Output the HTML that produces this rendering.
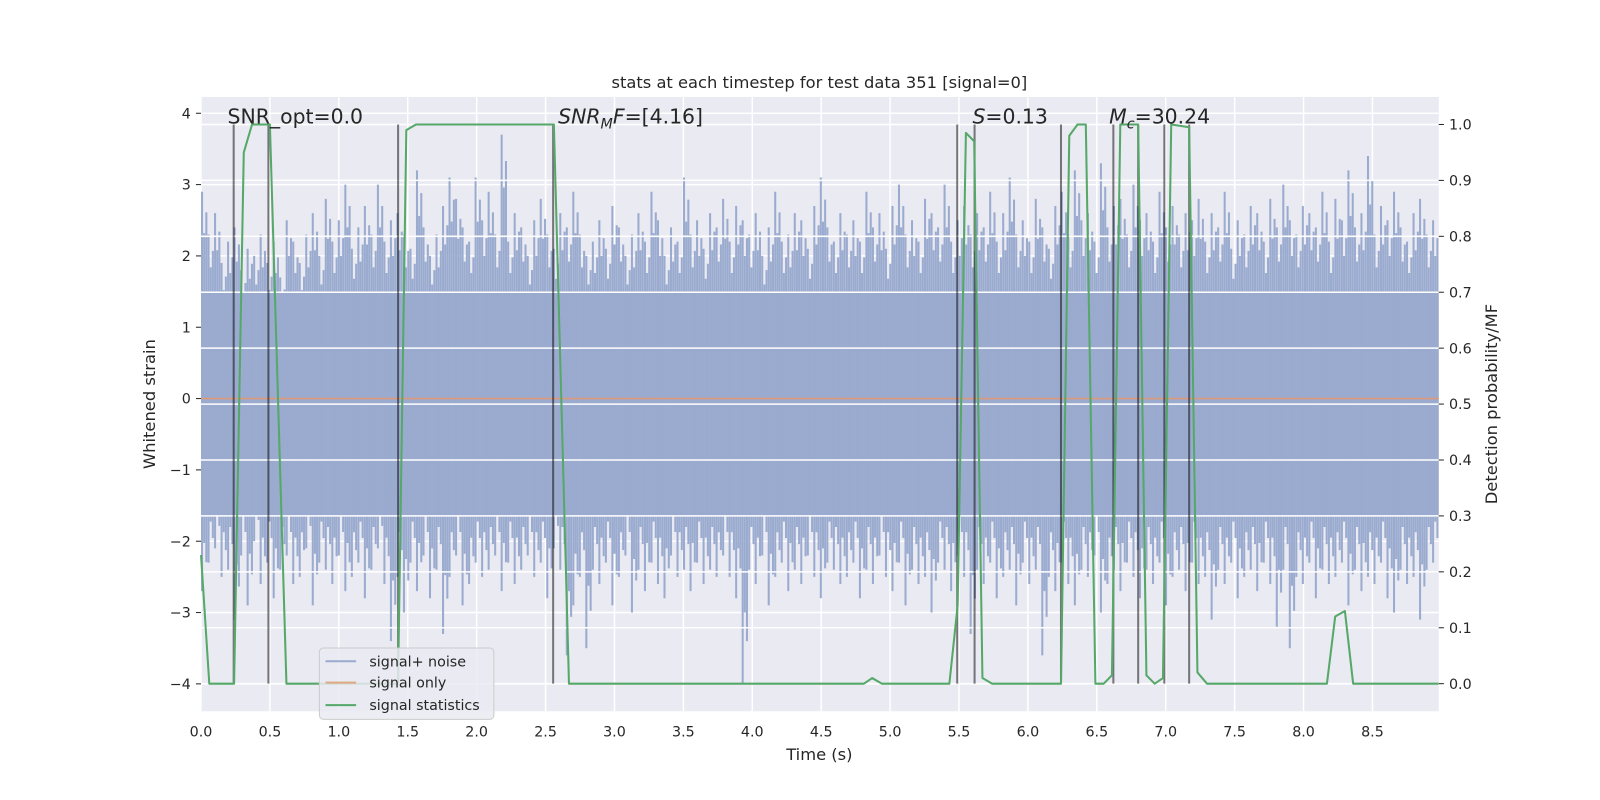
<!DOCTYPE html>
<html><head><meta charset="utf-8"><style>
body{margin:0;background:#fff;}
svg{display:block;font-family:"DejaVu Sans","Liberation Sans",sans-serif;}
</style></head><body>
<svg id="chart" width="1600" height="800" viewBox="0 0 1600 800">
<rect x="0" y="0" width="1600" height="800" fill="#fff"/>
<g transform="scale(1.0204)">
<rect x="197" y="95" width="1213" height="602" fill="#eaeaf2"/>
<g id="gridL"></g>
<g id="noise"></g>
<g id="sigonly"></g>
<g id="gridR"></g>
<g id="vlines"></g>
<g id="stats"></g>
<g id="axes"></g>
<text x="803" y="86" font-size="16" text-anchor="middle" fill="#262626">stats at each timestep for test data 351 [signal=0]</text>
<text x="223" y="121" font-size="20" fill="#262626">SNR_opt=0.0</text>
<text x="547" y="121" font-size="20" fill="#262626"><tspan font-style="italic">SNR</tspan><tspan font-style="italic" font-size="14" dy="5">M</tspan><tspan font-style="italic" dy="-5">F</tspan>=[4.16]</text>
<text x="953" y="121" font-size="20" fill="#262626"><tspan font-style="italic">S</tspan>=0.13</text>
<text x="1087" y="121" font-size="20" fill="#262626"><tspan font-style="italic">M</tspan><tspan font-style="italic" font-size="14" dy="5">c</tspan><tspan dy="-5">=30.24</tspan></text>
<text x="803" y="745" font-size="16" text-anchor="middle" fill="#262626">Time (s)</text>
<text transform="translate(152,396) rotate(-90)" font-size="16" text-anchor="middle" fill="#262626">Whitened strain</text>
<text transform="translate(1467,396) rotate(-90)" font-size="16" text-anchor="middle" fill="#262626">Detection probability/MF</text>
<g>
<rect x="313" y="635" width="171" height="70" rx="4" fill="#eaeaf2" fill-opacity="0.85" stroke="#cccccc"/>
<line x1="319" y1="648" x2="349" y2="648" stroke="#9aabcf" stroke-width="2"/>
<text x="362" y="653" font-size="14" fill="#262626">signal+ noise</text>
<line x1="319" y1="669" x2="349" y2="669" stroke="#dda87f" stroke-width="2"/>
<text x="362" y="674" font-size="14" fill="#262626">signal only</text>
<line x1="319" y1="691" x2="349" y2="691" stroke="#55a868" stroke-width="2"/>
<text x="362" y="696" font-size="14" fill="#262626">signal statistics</text>
</g>
</g>
</svg>
<script>
const xTicks=[0,0.5,1,1.5,2,2.5,3,3.5,4,4.5,5,5.5,6,6.5,7,7.5,8,8.5];
const yTicks=[-4,-3,-2,-1,0,1,2,3,4];
const rTicks=[0,0.1,0.2,0.3,0.4,0.5,0.6,0.7,0.8,0.9,1.0];
const noiseHi=[2.9,2.3,2.6,1.9,2.2,2.4,1.8,2.1,2.0,2.3,1.9,2.2,1.7,2.5,2.2,1.9,2.3,2.6,2.0,2.8,
2.2,2.5,3.0,2.1,2.4,2.7,2.3,3.0,2.2,2.5,2.6,2.3,2.1,3.2,2.4,2.0,2.3,2.7,3.1,2.8,
2.4,2.2,3.1,2.5,2.9,2.3,3.7,2.2,2.6,2.4,2.0,2.5,2.8,2.3,2.1,2.6,2.4,2.9,2.3,2.0,
2.2,2.5,2.1,2.7,2.4,2.0,2.3,2.6,2.2,2.9,2.5,2.0,2.4,2.2,3.1,2.3,2.5,2.1,2.6,2.4,
2.8,2.2,2.7,2.5,2.3,2.6,2.0,2.4,2.9,2.2,2.3,2.6,2.5,2.1,2.7,3.1,2.4,2.2,2.6,2.3,
2.5,2.2,2.9,2.4,2.6,2.1,2.7,3.0,2.3,2.5,2.2,2.8,2.6,2.4,3.0,2.2,2.5,2.7,2.3,2.6,
2.4,2.9,2.2,2.6,3.1,2.3,2.5,2.2,2.8,2.4,2.1,2.7,2.9,2.3,3.2,2.5,2.6,2.2,3.3,2.4,
2.7,2.8,2.3,3.0,2.5,2.6,2.2,2.9,2.4,2.7,2.3,2.6,2.5,2.8,2.2,2.6,2.4,2.9,2.1,2.5,
2.3,2.7,2.6,2.2,2.8,2.4,3.0,2.5,2.3,2.7,2.6,2.4,2.9,2.2,2.8,2.5,3.2,2.4,2.6,3.4,
2.3,2.7,2.5,2.9,2.4,2.2,2.6,2.8,2.3,2.5];
const noiseLo=[-2.7,-2.3,-2.1,-2.5,-2.4,-3.1,-2.2,-2.9,-2.0,-2.6,-2.3,-2.8,-2.4,-2.2,-2.6,-2.5,-2.1,-2.9,-2.3,-2.4,
-2.6,-2.2,-2.7,-2.5,-2.3,-2.8,-2.4,-2.1,-2.6,-3.4,-2.5,-3.0,-2.3,-2.7,-2.2,-2.8,-2.4,-3.3,-2.5,-2.2,
-2.9,-2.6,-2.3,-2.5,-2.4,-2.2,-2.7,-2.3,-2.6,-2.4,-2.2,-2.5,-2.3,-2.8,-2.1,-2.4,-3.6,-2.9,-2.5,-3.5,
-2.4,-2.6,-2.3,-2.9,-2.5,-2.2,-3.0,-2.4,-2.7,-2.3,-2.6,-2.8,-2.2,-2.5,-2.4,-2.7,-2.3,-2.6,-2.4,-2.5,
-2.2,-2.5,-2.8,-4.0,-2.4,-2.6,-2.2,-2.9,-2.5,-2.3,-2.7,-2.4,-2.6,-2.2,-2.5,-2.8,-2.3,-2.4,-2.6,-2.5,
-2.3,-2.8,-2.4,-2.6,-2.2,-2.5,-2.7,-2.3,-2.9,-2.4,-2.6,-2.5,-3.0,-2.3,-2.4,-2.7,-2.2,-2.5,-3.3,-2.4,
-2.6,-2.3,-2.8,-2.5,-2.4,-2.9,-2.3,-2.6,-2.4,-3.6,-2.5,-2.7,-2.3,-2.6,-2.9,-2.4,-2.5,-2.2,-3.0,-2.6,
-2.4,-2.7,-2.3,-2.5,-2.8,-2.4,-2.6,-2.3,-2.9,-2.5,-2.4,-2.7,-2.3,-2.6,-2.5,-3.1,-2.4,-2.6,-2.3,-2.8,
-2.5,-2.4,-2.7,-2.3,-2.6,-3.2,-2.4,-3.5,-2.5,-2.6,-2.3,-2.8,-2.4,-2.6,-2.5,-2.3,-2.9,-2.4,-2.7,-2.5,
-2.6,-2.3,-2.8,-3.0,-2.4,-2.6,-2.5,-3.1,-2.4,-2.3];
const statT=[0,0.06,0.24,0.31,0.37,0.5,0.62,0.75,1.0,1.43,1.49,1.56,2.0,2.56,2.67,3.0,4.81,4.87,4.94,5.43,5.49,5.55,5.61,5.67,5.74,6.24,6.30,6.36,6.42,6.49,6.55,6.61,6.67,6.80,6.86,6.92,6.98,7.04,7.17,7.23,7.30,8.17,8.23,8.30,8.36,8.98];
const statP=[0.23,0,0,0.95,1.0,1.0,0,0,0,0,0.99,1.0,1.0,1.0,0,0,0,0.01,0,0,0.14,0.985,0.97,0.01,0,0,0.98,1.0,1.0,0,0,0.015,1.0,1.0,0.015,0,0.01,1.0,0.995,0.02,0,0,0.12,0.13,0,0];
const markerT=[0.237,0.489,1.43,2.555,5.487,5.613,6.24,6.62,6.80,6.99,7.17];
const tMax=8.98;

const NS="http://www.w3.org/2000/svg";
const X0=197,X1=1410,YT=95,YB=697;
const xs=t=>X0+t*135.06;
const yl=v=>390.6-v*69.9;
const yr=p=>670-p*548;
function mk(tag,attrs,parent){const e=document.createElementNS(NS,tag);for(const k in attrs)e.setAttribute(k,attrs[k]);parent.appendChild(e);return e;}
const gL=document.getElementById('gridL'),gN=document.getElementById('noise'),gS=document.getElementById('sigonly'),gR=document.getElementById('gridR'),gV=document.getElementById('vlines'),gSt=document.getElementById('stats'),gA=document.getElementById('axes');

xTicks.forEach(t=>{const l=mk('line',{x1:xs(t),x2:xs(t),y1:YT,y2:YB,stroke:'#fff','stroke-width':1.5},gL);


const tx=mk('text',{x:xs(t),y:722,'font-size':14,'text-anchor':'middle',fill:'#262626'},gA);tx.textContent=t.toFixed(1);

});
yTicks.forEach(v=>{const l=mk('line',{x1:X0,x2:X1,y1:yl(v),y2:yl(v),stroke:'#fff','stroke-width':1.5},gL);


const tk=mk('line',{x1:X0-5,x2:X0,y1:yl(v),y2:yl(v),stroke:'#262626','stroke-width':1},gA);


const tx=mk('text',{x:X0-10,y:yl(v)+5,'font-size':14,'text-anchor':'end',fill:'#262626'},gA);tx.textContent=(v<0?'\u2212'+(-v):String(v));

});

const n=noiseHi.length,dt=tMax/n;
const core=mk('rect',{x:X0,y:yl(1.5),width:X1-X0,height:yl(-1.65)-yl(1.5),fill:'#9aabcf'},gN);


for(let i=0;i<n;i++){
  const t0=i*dt;
  const sub=[[0.0,1.0,1.0],[0.33,0.8,0.75],[0.66,0.9,0.85]];
  sub.forEach(s=>{
    const x=xs(t0+s[0]*dt)+1;
    const b=mk('line',{x1:x,x2:x,y1:yl(Math.max(1.5,noiseHi[i]*s[1])),y2:yl(Math.min(-1.65,noiseLo[i]*s[2])),stroke:'#9aabcf','stroke-width':2},gN);
    
    
  });
}
const so=mk('line',{x1:X0,x2:X1,y1:yl(0),y2:yl(0),stroke:'#dd9a7a','stroke-width':1.5},gS);



rTicks.forEach(p=>{const l=mk('line',{x1:X0,x2:X1,y1:yr(p),y2:yr(p),stroke:'#fff','stroke-width':1.5},gR);


const tk=mk('line',{x1:X1,x2:X1+5,y1:yr(p),y2:yr(p),stroke:'#262626','stroke-width':1},gA);


const tx=mk('text',{x:X1+10,y:yr(p)+5,'font-size':14,fill:'#262626'},gA);tx.textContent=p.toFixed(1);

});

markerT.forEach(t=>{const l=mk('line',{x1:xs(t),x2:xs(t),y1:yr(1),y2:yr(0),stroke:'#000','stroke-opacity':0.5,'stroke-width':2},gV);

});

const pts=statT.map((t,i)=>xs(t).toFixed(1)+','+yr(statP[i]).toFixed(1)).join(' ');
const pl=mk('polyline',{points:pts,fill:'none',stroke:'#55a868','stroke-width':2,'stroke-linejoin':'round'},gSt);


</script>
</body></html>
